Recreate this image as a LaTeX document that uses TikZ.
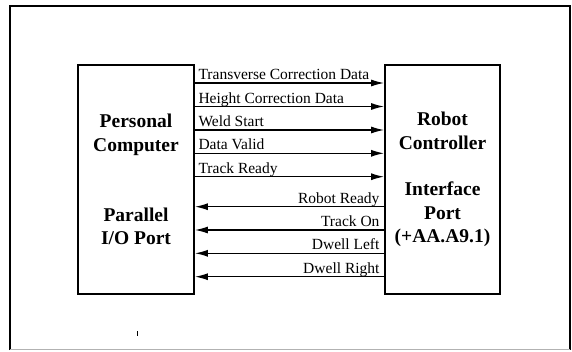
\documentclass[tikz,border=0pt]{standalone}
\usepackage{fontspec}
\setmainfont{Liberation Serif}
\usetikzlibrary{arrows.meta}
\begin{document}
\begin{tikzpicture}[x=1pt,y=-1pt,>=Latex]
\tikzset{blk/.style={draw,line width=1.7pt,minimum width=116pt,minimum height=229pt,align=center,inner sep=0pt,font=\fontsize{19.5}{23.3}\selectfont\bfseries}, sig/.style={->,line width=1.4pt,>={Latex[length=13pt,width=7pt]}}, lbl/.style={font=\fontsize{15.5}{17}\selectfont,inner sep=0pt}}
\useasboundingbox (0,0) rectangle (572,351);
\draw[line width=1.4pt] (10,350)--(10,6)--(570,6)--(570,350);
\draw[black!30,line width=1.2pt] (10,349.5)--(570,349.5);
\draw (137,331)--(137,336);
\node[blk] (pc) at (136,179.5) {Personal\\Computer\\[46.6pt]Parallel\\I/O Port};
\node[blk,minimum width=115pt] (rc) at (442.5,179.5) {Robot\\Controller\\[23.3pt]Interface\\Port\\(+AA.A9.1)};
\foreach \y/\txt in {83/Transverse Correction Data,106.5/Height Correction Data,130/Weld Start,153.3/Data Valid,176.7/Track Ready}
  \draw[sig] (pc.east |- 0,\y) -- (rc.west |- 0,\y) node[lbl,pos=0,anchor=base west,yshift=3.5pt,xshift=3pt] {\txt};
\foreach \y/\txt in {206.7/Robot Ready,230/Track On,253.3/Dwell Left,276.7/Dwell Right}
  \draw[sig] (rc.west |- 0,\y) -- (pc.east |- 0,\y) node[lbl,pos=0,anchor=base east,yshift=3.5pt,xshift=-4pt] {\txt};
\end{tikzpicture}
\end{document}
